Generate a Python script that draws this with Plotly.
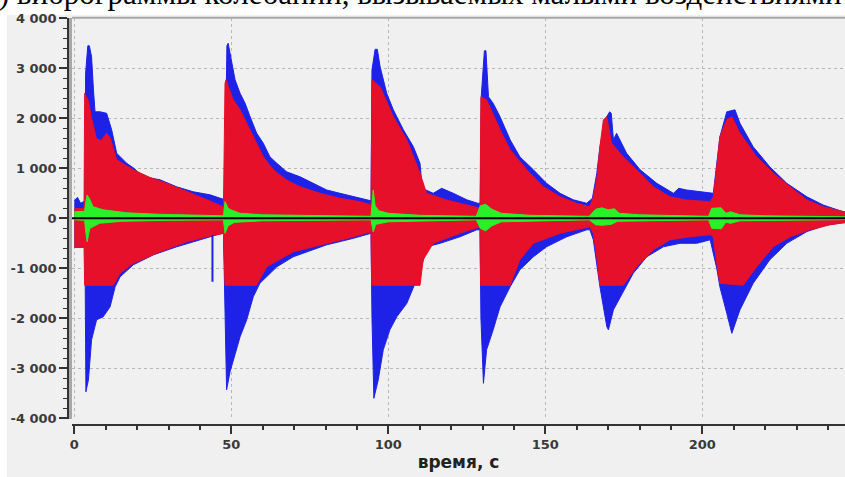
import plotly.graph_objects as go

# ---------------- data ----------------
blue_top_t = [0, 1, 2, 3, 3.4, 3.6, 4.3, 4.8, 5.5, 6.1, 6.6, 8.2, 10.3, 11.9, 13.5, 16.7, 19, 22, 27.3, 32.6, 37.9, 43.2, 47.5,
              48.0, 48.6, 49.0, 50.1, 51.2, 52.8, 54.4, 56, 58.1, 60.2, 62.3, 64.5, 67.6, 71.9, 76.1, 80.4, 84.6, 88.9, 93.1, 94.5,
              94.8, 95.8, 96.5, 97.4, 99.5, 101.6, 104.8, 108, 110.1, 110.8, 114.3, 117, 120.7, 125, 128.5,
              129.3, 129.6, 130.6, 131.1, 131.9, 133.4, 135.6, 138.8, 141.9, 146.2, 150.4, 154.7, 158.9, 163.2, 165,
              166.4, 167.4, 169, 170.5, 171, 171.7, 172.7, 175.9, 180.2, 185.5, 190.8, 192.5, 195, 199.3, 202.5,
              203.5, 204, 205.6, 207.8, 210.4, 212, 216.2, 221.5, 226.9, 233.3, 238.5, 244.9, 246]
blue_top_v = [350, 420, 300, 330, 350, 2900, 3450, 3450, 3230, 2570, 2130, 2130, 2100, 1770, 1300, 1100, 1000, 830, 770, 630, 530, 470, 380,
              700, 3450, 3500, 3100, 2770, 2500, 2300, 2030, 1700, 1500, 1230, 1100, 930, 830, 700, 566, 500, 430, 366, 350,
              2970, 3380, 3380, 3030, 2500, 2170, 1770, 1430, 1100, 600, 500, 600, 500, 370, 300,
              300, 2430, 3350, 3350, 2430, 2300, 2030, 1570, 1230, 970, 700, 500, 370, 300, 400,
              900, 1430, 1970, 2130, 2100, 1570, 1700, 1300, 970, 700, 500, 600, 566, 533, 500,
              500, 766, 1630, 2130, 2170, 1900, 1430, 1030, 700, 430, 266, 130, 120]

blue_bot_t = [0, 3, 3.4, 3.6, 3.7, 4.5, 5.5, 7.1, 9.2, 11.4, 13, 14.6, 18.8, 25.2, 32.6, 40, 45.4, 47.5,
              48, 48.5, 49.6, 50.6, 52.8, 54.9, 57, 59.1, 64.5, 69.7, 80.4, 88.9, 94.5,
              94.8, 95.4, 96.8, 98.4, 100.5, 102.7, 105.9, 109, 110.6, 112.2, 116.5, 122.8, 128.2, 129.2,
              129.5, 130.3, 131.3, 133.4, 135.6, 138.8, 141.9, 146.2, 150.4, 156.8, 163.2, 164.2,
              165.3, 167.4, 169.6, 170.1, 171.7, 173.8, 178, 182.3, 187.6, 192.9, 198.2, 202.5,
              204.6, 205.6, 207.8, 209.4, 212, 216.2, 221.5, 226.9, 233.3, 239.6, 246]
blue_bot_v = [-580, -580, -600, -2500, -3470, -3230, -2430, -2030, -1970, -1770, -1370, -1170, -930, -730, -570, -430, -330, -300,
              -1500, -3430, -3070, -2830, -2370, -2030, -1570, -1300, -970, -770, -530, -400, -300,
              -2000, -3600, -3230, -2630, -2230, -1970, -1700, -1230, -970, -570, -500, -370, -230, -230,
              -2000, -3300, -2630, -2230, -1770, -1370, -1030, -770, -570, -370, -230, -230,
              -430, -1370, -2170, -2230, -1830, -1570, -1100, -770, -570, -500, -500, -430,
              -1000, -1370, -1900, -2300, -1830, -1300, -830, -500, -266, -133, -80]

red_top_t = [0, 3.1, 3.3, 4.5, 5.5, 7, 8.5, 10.3, 11.5, 13.5, 18.8, 24, 29.4, 35, 40, 47.5,
             48.0, 48.3, 50.6, 52.8, 54.9, 57, 60.2, 63.4, 67.6, 71.9, 78.3, 84.6, 91, 94.5,
             94.8, 97.4, 101.6, 105.9, 110.1, 112.2, 118.6, 125, 129.2,
             129.5, 131.3, 135.6, 138.8, 144.1, 149.4, 154.7, 160, 164.2,
             165.3, 166.4, 167.4, 168.5, 169.6, 171.1, 174.8, 179.1, 184.4, 189.7, 195, 202.5,
             203.5, 204.6, 205.6, 207.8, 209.4, 212, 217.3, 222.6, 228, 233.3, 238.5, 246]
red_top_v = [190, 200, 2500, 2350, 2000, 1600, 1550, 1700, 1600, 1170, 970, 820, 700, 560, 430, 230,
             2700, 2770, 2370, 2170, 1900, 1630, 1230, 970, 766, 630, 500, 400, 333, 270,
             2770, 2630, 2030, 1570, 900, 500, 366, 266, 200,
             2430, 2370, 1770, 1370, 970, 630, 430, 300, 230,
             430, 770, 1430, 1970, 2030, 1500, 1230, 970, 630, 430, 366, 333,
             430, 1030, 1630, 1970, 2030, 1700, 1230, 900, 630, 366, 230, 120]

red_bot_t = [0, 3.1, 3.3, 12.4, 14.6, 18.8, 27.3, 35.8, 42.2, 47.5,
             48, 58, 61.3, 69.7, 80.4, 88.9, 94.5,
             94.7, 110.1, 111.1, 114.3, 122.8, 129.2,
             129.4, 138.8, 141.9, 146.2, 154.7, 164.2,
             165.3, 166.4, 167.4, 174.8, 179.1, 184.4, 189.7, 196, 202.5,
             203.5, 204.6, 205.6, 213, 217.3, 222.6, 228, 234.3, 240.7, 246]
red_bot_v = [-570, -560, -1340, -1340, -1100, -900, -670, -470, -370, -300,
             -1340, -1340, -970, -670, -500, -370, -270,
             -1340, -1340, -830, -500, -300, -170,
             -1340, -1340, -830, -500, -300, -170,
             -300, -770, -1340, -1340, -970, -630, -430, -370, -330,
             -370, -900, -1300, -1340, -970, -570, -370, -230, -130, -80]

green_top_t = [0, 3.3, 3.6, 4.1, 5, 6, 9.2, 16.7, 27, 40, 47.5, 48, 49, 50, 52.8, 60, 80, 94.5,
               95.2, 95.8, 97, 100, 110, 128, 129.3, 131, 133, 136, 145, 164,
               166, 168, 170, 172, 173.5, 180, 202, 203, 206, 207.5, 209, 212, 220, 246]
green_top_v = [130, 140, 300, 466, 370, 230, 170, 110, 80, 60, 50, 333, 200, 166, 100, 70, 50, 40,
               566, 250, 150, 100, 60, 40, 250, 280, 180, 100, 60, 40,
               180, 210, 170, 190, 100, 70, 40, 200, 210, 100, 130, 70, 50, 30]
green_bot_t = [0, 3.3, 3.6, 4.1, 4.6, 5, 8, 15, 30, 47.5, 48, 49, 51, 60, 94.5,
               95.2, 96, 100, 128, 129.3, 131, 133, 136, 164,
               166, 168, 171, 173, 202, 203, 206, 207.5, 209, 212, 246]
green_bot_v = [-30, -40, -250, -470, -300, -200, -100, -60, -40, -30, -300, -150, -80, -50, -30,
               -270, -120, -70, -30, -200, -250, -150, -70, -30,
               -130, -140, -120, -60, -30, -200, -210, -80, -100, -50, -25]

spike_t = [44.0, 44.0]
spike_v = [-330, -1270]

x_ticks = [0, 50, 100, 150, 200]
y_ticks = [-4000, -3000, -2000, -1000, 0, 1000, 2000, 3000, 4000]
y_tick_text = ["-4 000", "-3 000", "-2 000", "-1 000", "0", "1 000", "2 000", "3 000", "4 000"]

title_text = "а) виброграммы колебаний, вызываемых малыми воздействиями"
x_title = "время, с"

# ---------------- figure ----------------
W, H = 845, 477
BLUE = "#1e22e6"
RED = "#e6102a"
GREEN = "#2af02a"
TXT = "#3a3a3a"


def band(tt, vt, tb, vb):
    return list(tt) + list(tb)[::-1], list(vt) + list(vb)[::-1]


fig = go.Figure()
for (tt, vt, tb, vb, col) in [
    (blue_top_t, blue_top_v, blue_bot_t, blue_bot_v, BLUE),
    (red_top_t, red_top_v, red_bot_t, red_bot_v, RED),
    (green_top_t, green_top_v, green_bot_t, green_bot_v, GREEN),
]:
    xs, ys = band(tt, vt, tb, vb)
    fig.add_trace(go.Scatter(x=xs, y=ys, mode="lines", fill="toself", fillcolor=col,
                             line=dict(color=col, width=1), hoverinfo="skip", showlegend=False))

fig.add_trace(go.Scatter(x=spike_t, y=spike_v, mode="lines", line=dict(color=BLUE, width=2),
                         hoverinfo="skip", showlegend=False))
# carrier trace for the offset axes
fig.add_trace(go.Scatter(x=[None], y=[None], xaxis="x2", yaxis="y2", showlegend=False, hoverinfo="skip"))

x_left_px, x0_px, ppu = 72.0, 74.3, 3.14
xr = [(x_left_px - x0_px) / ppu, (W - x0_px) / ppu]
yr = [-4020, 4010]
xdom = [x_left_px / W, 1.0]
ydom = [(H - 419.3) / H, (H - 17.8) / H]

grid = dict(showgrid=True, gridcolor="#b8b8b8", griddash="dot", gridwidth=1)
tickfont = dict(family="DejaVu Sans", size=13, color=TXT, weight="bold")
fig.update_layout(
    width=W, height=H,
    margin=dict(l=0, r=0, t=0, b=0, autoexpand=False),
    paper_bgcolor="#f0f0f0", plot_bgcolor="#f0f0f0",
    showlegend=False,
    xaxis=dict(domain=xdom, range=xr, tickvals=x_ticks, showticklabels=False, ticks="",
               zeroline=False, showline=False, automargin=False, **grid),
    yaxis=dict(domain=ydom, range=yr, tickvals=y_ticks, showticklabels=False, ticks="",
               zeroline=False, showline=True, linecolor="#a8a8a8", linewidth=3, automargin=False, **grid),
    xaxis2=dict(overlaying="x", anchor="free", position=(H - 425) / H, domain=xdom, range=xr,
                tickvals=x_ticks, ticktext=[str(v) for v in x_ticks], ticks="outside", ticklen=8,
                tickwidth=1.5, tickcolor="#333", showline=True, linecolor="#333", linewidth=1.5,
                showgrid=False, zeroline=False, automargin=False, tickfont=tickfont,
                minor=dict(dtick=10, tick0=0, ticks="outside", ticklen=4, tickwidth=1.5, tickcolor="#333",
                           showgrid=False),
                title=dict(text=x_title, font=dict(family="DejaVu Sans", size=17, color="#222", weight="bold"),
                           standoff=4)),
    yaxis2=dict(overlaying="y", anchor="free", position=68 / W, domain=ydom, range=yr,
                tickvals=y_ticks, ticktext=y_tick_text, ticks="outside", ticklen=8,
                tickwidth=1.5, tickcolor="#333", showline=True, linecolor="#333", linewidth=1.5,
                showgrid=False, zeroline=False, automargin=False, tickfont=tickfont,
                minor=dict(dtick=200, tick0=0, ticks="outside", ticklen=4, tickwidth=1.2, tickcolor="#333",
                           showgrid=False)),
    shapes=[
        dict(type="line", xref="x domain", yref="y", x0=0, x1=1, y0=0, y1=0,
             line=dict(color="#000000", width=2), layer="above"),
        dict(type="line", xref="x domain", yref="y domain", x0=0, x1=1, y0=1, y1=1,
             line=dict(color="#a8a8a8", width=2), layer="above"),
        dict(type="rect", xref="paper", yref="paper", x0=0, x1=1, y0=(H - 15) / H, y1=1.05,
             fillcolor="white", line=dict(width=0), layer="below"),
        dict(type="rect", xref="paper", yref="paper", x0=0, x1=7 / W, y0=0, y1=1,
             fillcolor="white", line=dict(width=0), layer="below"),
    ],
    annotations=[
        dict(text=title_text, xref="paper", yref="paper", x=-17 / W, y=1, xanchor="left", yanchor="bottom",
             yshift=-13, showarrow=False,
             font=dict(family="Liberation Serif", size=31, color="black")),
    ],
)

fig.write_html("out.html", config={"displayModeBar": False},
               post_script="document.body.style.margin='0px';")
